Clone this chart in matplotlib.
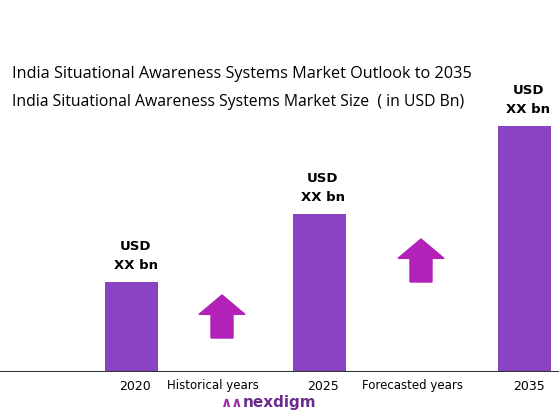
import matplotlib
matplotlib.use("Agg")
import matplotlib.pyplot as plt
from matplotlib.patches import Polygon

years = ["2020", "2025", "2035"]
values = [90, 158, 246]
labels = ["USD\nXX bn", "USD\nXX bn", "USD\nXX bn"]
xpos = [131.5, 319, 524.5]

fig = plt.figure(figsize=(5.59, 4.16), dpi=100)
ax = fig.add_axes([0, 44/416, 1, 372/416])
ax.set_xlim(0, 559)
ax.set_ylim(0, 372)
ax.axis("off")
ax.bar(xpos, values, width=53, color="#8A43C2")
ax.axhline(0, color="#333333", lw=1.5)
for x, v, l in zip(xpos, values, labels):
    ax.text(x + 4, v + 10, l, ha="center", va="bottom", fontsize=9.5,
            fontweight="bold", linespacing=1.6)

def arrow(cx, yb, w=46, h=43, color="#B221B8"):
    pts = [(cx-11, yb), (cx+11, yb), (cx+11, yb+h*0.55), (cx+w/2, yb+h*0.55),
           (cx, yb+h), (cx-w/2, yb+h*0.55), (cx-11, yb+h*0.55)]
    ax.add_patch(Polygon(pts, closed=True, color=color))
arrow(222, 34)
arrow(421, 90)

fig.text(12/559, 1-74/416, "India Situational Awareness Systems Market Outlook to 2035",
         fontsize=11.7, va="center", family="Open Sans")
fig.text(12/559, 1-102/416, "India Situational Awareness Systems Market Size  ( in USD Bn)",
         fontsize=11.3, va="center", family="Open Sans")
for x, t in zip(xpos, years):
    fig.text((x + 4)/559, 1-386/416, t, ha="center", va="center", fontsize=9)
fig.text(213/559, 1-386/416, "Historical years", ha="center", va="center", fontsize=8.5)
fig.text(412/559, 1-386/416, "Forecasted years", ha="center", va="center", fontsize=8.5)
fig.text(232/559, 1-403/416, "\u2227\u2227", ha="center", va="center", fontsize=10,
         color="#9B2FA8", fontweight="bold")
fig.text(280/559, 1-402/416, "nexdigm", ha="center", va="center", fontsize=11,
         color="#6B2D8C", fontweight="bold")
fig.savefig("out.png", dpi=100)
